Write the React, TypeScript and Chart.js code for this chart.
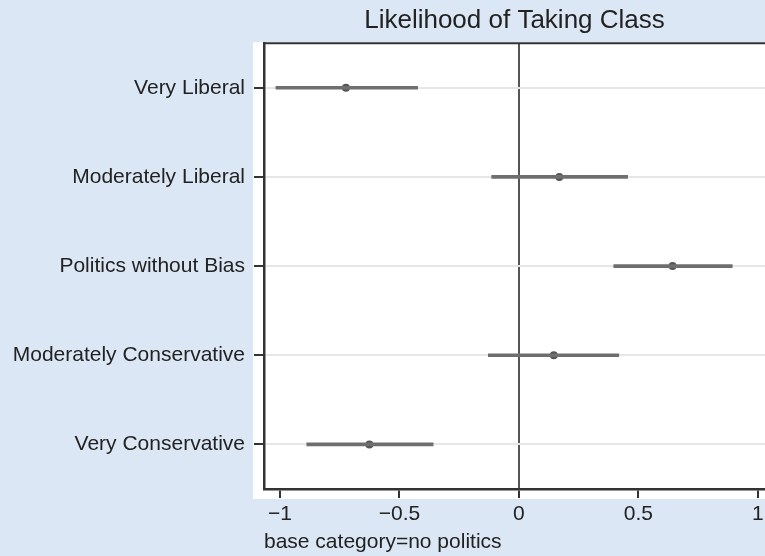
import React, { useEffect, useRef } from "react";
import { Chart, registerables } from "chart.js";

Chart.register(...registerables);

const categories = [
  "Very Liberal",
  "Moderately Liberal",
  "Politics without Bias",
  "Moderately Conservative",
  "Very Conservative",
];
const estimates = [-0.724, 0.169, 0.643, 0.146, -0.626];
const lowerCI = [-1.017, -0.114, 0.397, -0.128, -0.888];
const upperCI = [-0.424, 0.455, 0.893, 0.418, -0.359];
const xTicks = [-1, -0.5, 0, 0.5, 1];

const FONT = "'Liberation Sans', Arial, Helvetica, sans-serif";
const DARK = "#333333";
const BLUE = "#dce7f5";

const bgPlugin = {
  id: "bgPlugin",
  beforeDraw(chart: any) {
    const { ctx, chartArea, width, height } = chart;
    ctx.save();
    ctx.fillStyle = BLUE;
    ctx.fillRect(0, 0, width, height);
    ctx.fillStyle = "#ffffff";
    const l = chartArea.left - 11;
    const t = chartArea.top - 1;
    ctx.fillRect(l, t, width - l, chartArea.bottom + 10 - t);
    ctx.restore();
  },
  afterDraw(chart: any) {
    const { ctx, chartArea, width } = chart;
    ctx.save();
    ctx.strokeStyle = DARK;
    ctx.lineWidth = 2;
    ctx.beginPath();
    ctx.moveTo(chartArea.left - 1, chartArea.top);
    ctx.lineTo(width, chartArea.top);
    ctx.stroke();
    ctx.restore();
  },
};

export default function App() {
  const ref = useRef<HTMLCanvasElement>(null);
  useEffect(() => {
    document.body.style.margin = "0";
    const chart = new Chart(ref.current as HTMLCanvasElement, {
      type: "bar",
      data: {
        labels: categories,
        datasets: [
          {
            type: "bar",
            indexAxis: "y",
            data: categories.map((_, i) => [lowerCI[i], upperCI[i]]),
            backgroundColor: "#6e6e6e",
            borderWidth: 0,
            barThickness: 3,
          } as any,
          {
            type: "line",
            indexAxis: "y",
            data: estimates,
            showLine: false,
            pointRadius: 4,
            pointStyle: "circle",
            pointBackgroundColor: "#555555",
            pointBorderWidth: 0,
          } as any,
        ],
      },
      plugins: [bgPlugin],
      options: {
        indexAxis: "y",
        responsive: false,
        animation: false,
        layout: { padding: 0, autoPadding: false },
        plugins: {
          legend: { display: false },
          tooltip: { enabled: false },
          title: {
            display: true,
            text: "Likelihood of Taking Class",
            fullSize: false,
            color: "#222222",
            font: { family: FONT, size: 26, weight: "normal" },
            padding: { top: 5, bottom: 7 },
          },
        },
        scales: {
          x: {
            type: "linear",
            min: -1.067,
            max: 1.03,
            afterBuildTicks: (s: any) => {
              s.ticks = xTicks.map((v) => ({ value: v }));
            },
            afterFit: (s: any) => {
              s.height = 67;
              s.paddingLeft = 0;
              s.paddingRight = 0;
            },
            ticks: {
              color: "#222222",
              font: { family: FONT, size: 21 },
              padding: 4,
              maxRotation: 0,
              autoSkip: false,
              callback: (v: any) => {
                const n = Number(v);
                return n < 0 ? "\u2212" + String(Math.abs(n)) : String(n);
              },
            },
            grid: {
              drawTicks: true,
              tickLength: 9,
              lineWidth: 2,
              tickColor: DARK,
              color: (c: any) =>
                c.tick && c.tick.value === 0 ? "#555555" : "rgba(0,0,0,0)",
            },
            border: { display: true, color: DARK, width: 2.5 },
            title: {
              display: true,
              text: "base category=no politics",
              align: "start",
              color: "#222222",
              font: { family: FONT, size: 21 },
              padding: { top: 0, bottom: 1 },
            },
          },
          y: {
            type: "category",
            offset: true,
            afterFit: (s: any) => {
              s.width = 264;
            },
            ticks: {
              color: "#222222",
              font: { family: FONT, size: 21 },
              padding: 9,
            },
            grid: {
              offset: false,
              drawTicks: true,
              tickLength: 10,
              lineWidth: 2,
              color: "#e6e6e6",
              tickColor: DARK,
            },
            border: { display: true, color: DARK, width: 2.5 },
          },
        },
      } as any,
    });
    return () => chart.destroy();
  }, []);
  return (
    <div style={{ width: 765, height: 556 }}>
      <canvas ref={ref} width={765} height={556} />
    </div>
  );
}
